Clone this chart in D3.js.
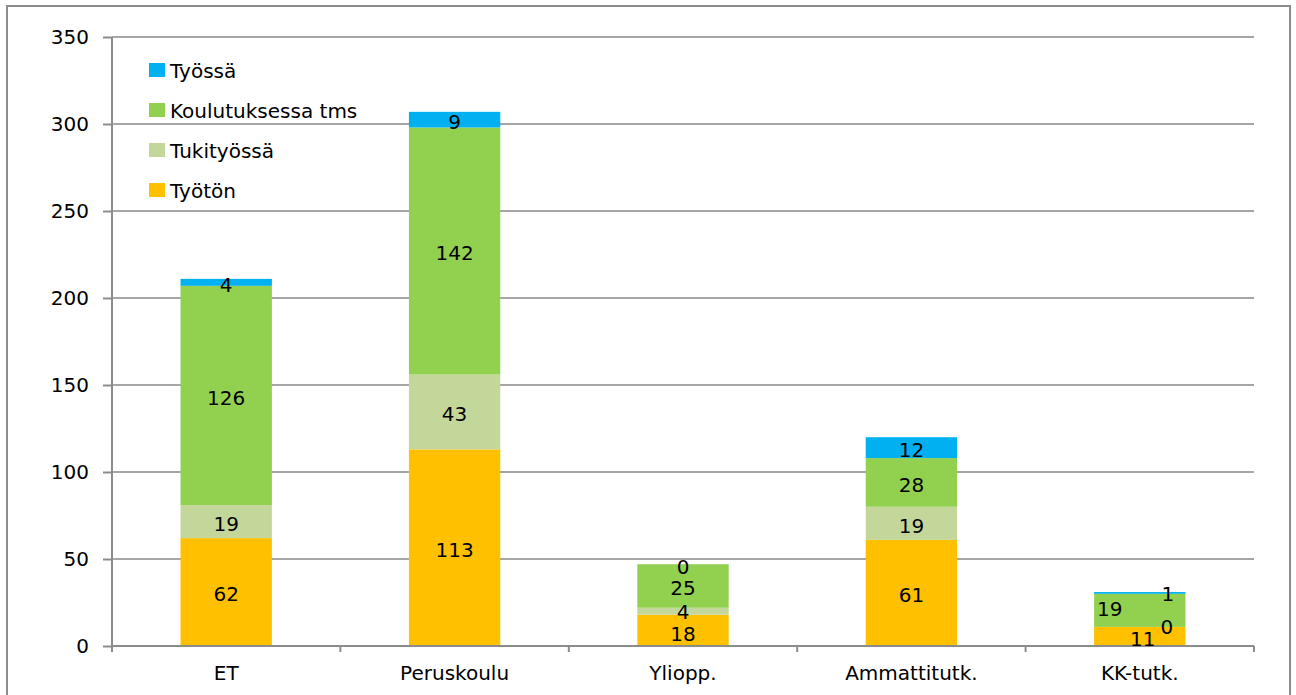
<!DOCTYPE html>
<html><head><meta charset="utf-8">
<script src="https://cdn.jsdelivr.net/npm/d3@7"></script>
<style>html,body{margin:0;padding:0;background:#fff;overflow:hidden}text{font-family:"DejaVu Sans",Verdana,sans-serif;fill:#000}</style>
</head><body>
<svg id="c" width="1296" height="695"></svg>
<script>
const categories = ["ET", "Peruskoulu", "Yliopp.", "Ammattitutk.", "KK-tutk."];
const seriesNames = ["Työtön", "Tukityössä", "Koulutuksessa tms", "Työssä"];
const tyoton = [62, 113, 18, 61, 11];
const tukityossa = [19, 43, 4, 19, 0];
const koulutuksessa = [126, 142, 25, 28, 19];
const tyossa = [4, 9, 0, 12, 1];
const yTicks = [0, 50, 100, 150, 200, 250, 300, 350];

const colors = {"Työtön":"#FFC000","Tukityössä":"#C4D79B","Koulutuksessa tms":"#92D050","Työssä":"#00B0F0"};
// manual label nudges (pixels) as in the original, keyed "series|category"
const labelNudge = {
  "Työtön|KK-tutk.":[3,0],
  "Tukityössä|KK-tutk.":[27,-2],
  "Koulutuksessa tms|KK-tutk.":[-30,-4],
  "Työssä|KK-tutk.":[28,-1],
  "Tukityössä|Yliopp.":[0,-2],
  "Työtön|Yliopp.":[0,1]
};

const rows = categories.map((c,i)=>({cat:c,"Työtön":tyoton[i],"Tukityössä":tukityossa[i],"Koulutuksessa tms":koulutuksessa[i],"Työssä":tyossa[i]}));
const stack = d3.stack().keys(seriesNames)(rows);

const svg = d3.select("#c");
const L=112, R=1254, T=37, B=646;
const x = d3.scaleBand().domain(categories).range([L,R]).paddingInner(0.6).paddingOuter(0.3);
const xb = d3.scaleBand().domain(categories).range([L,R]);
const y = d3.scaleLinear().domain([0,350]).range([B,T]);

// outer border
svg.append("rect").attr("x",7).attr("y",6).attr("width",1283).attr("height",700)
  .attr("fill","none").attr("stroke","#8c8c8c").attr("stroke-width",2);

// gridlines
svg.append("g").selectAll("line").data(yTicks.filter(d=>d>0)).join("line")
  .attr("x1",L).attr("x2",R).attr("y1",d=>y(d)).attr("y2",d=>y(d))
  .attr("stroke","#a6a6a6").attr("stroke-width",2);

// bars
const g = svg.append("g");
stack.forEach(s=>{
  g.append("g").selectAll("rect").data(s).join("rect")
    .attr("x",d=>x(d.data.cat)).attr("width",x.bandwidth())
    .attr("y",d=>y(d[1])).attr("height",d=>y(d[0])-y(d[1]))
    .attr("fill",colors[s.key]);
});

// y axis
const ya = svg.append("g").attr("transform",`translate(${L},0)`)
  .call(d3.axisLeft(y).tickValues(yTicks).tickSize(9).tickPadding(14).tickFormat(d3.format("d")));
ya.select(".domain").attr("stroke","#8c8c8c").attr("stroke-width",2).attr("d",`M0,${T}V${B}`);
ya.selectAll(".tick line").attr("stroke","#8c8c8c").attr("stroke-width",2);
ya.selectAll("text").style("font-size","20px").attr("fill","#000");

// x axis
const xa = svg.append("g").attr("transform",`translate(0,${B})`)
  .call(d3.axisBottom(xb).tickSize(0).tickPadding(20));
xa.select(".domain").attr("stroke","#8c8c8c").attr("stroke-width",2).attr("d",`M${L},0H${R}`);
xa.selectAll(".tick line").remove();
xa.selectAll("text").style("font-size","20px").attr("fill","#000");
svg.append("g").selectAll("line").data(d3.range(categories.length+1)).join("line")
  .attr("x1",i=>L+i*xb.step()).attr("x2",i=>L+i*xb.step())
  .attr("y1",B).attr("y2",B+6).attr("stroke","#8c8c8c").attr("stroke-width",2);

// data labels
stack.forEach(s=>{
  svg.append("g").selectAll("text").data(s).join("text")
    .attr("x",d=>x(d.data.cat)+x.bandwidth()/2+((labelNudge[s.key+"|"+d.data.cat]||[0,0])[0]))
    .attr("y",d=>(y(d[0])+y(d[1]))/2+2+((labelNudge[s.key+"|"+d.data.cat]||[0,0])[1]))
    .attr("dy","0.37em").attr("text-anchor","middle").style("font-size","20px")
    .text(d=>d.data[s.key]);
});

// legend
const legendOrder = ["Työssä","Koulutuksessa tms","Tukityössä","Työtön"];
const lg = svg.append("g").selectAll("g").data(legendOrder).join("g")
  .attr("transform",(d,i)=>`translate(149,${70+i*40})`);
lg.append("rect").attr("x",0).attr("y",-7).attr("width",16).attr("height",14).attr("fill",d=>colors[d]);
lg.append("text").attr("x",21).attr("y",1).attr("dy","0.37em").style("font-size","20px").text(d=>d);
</script>
</body></html>
